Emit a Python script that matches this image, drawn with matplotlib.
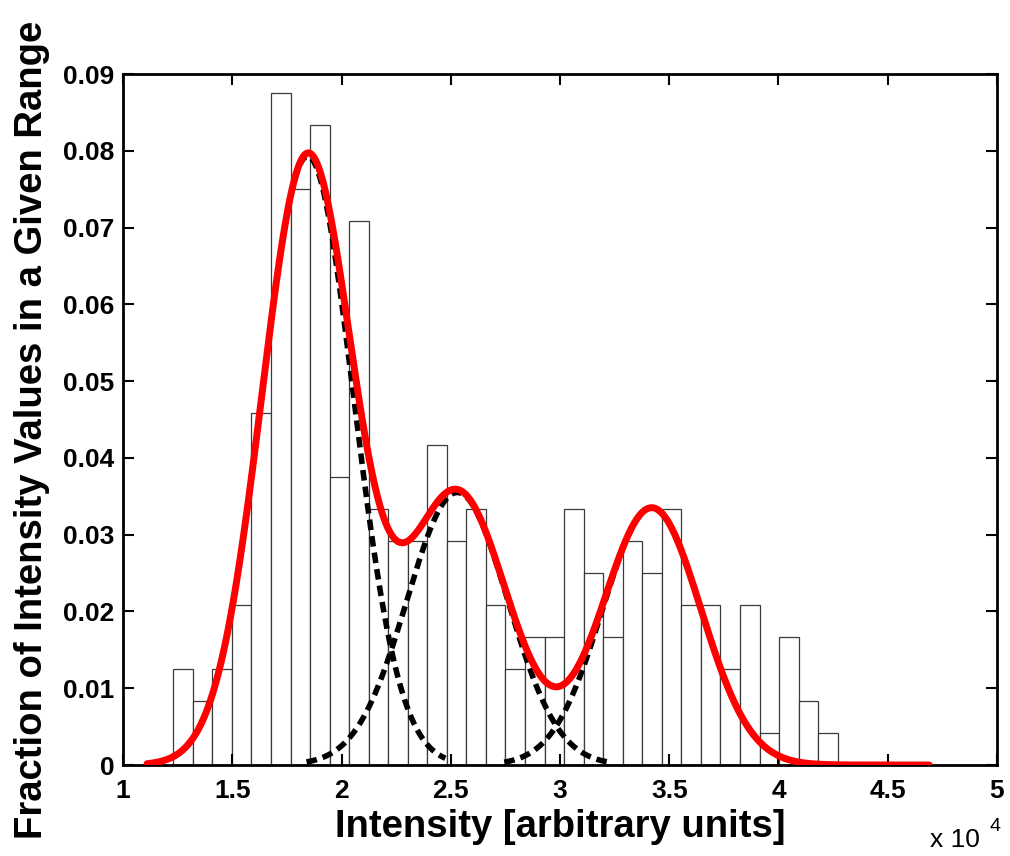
import numpy as np
import matplotlib
matplotlib.use('Agg')
import matplotlib.pyplot as plt
from matplotlib.ticker import FuncFormatter

plt.rcParams['font.family'] = ['Liberation Sans', 'DejaVu Sans']
plt.rcParams['font.weight'] = 'bold'

# histogram: fraction of intensity values per bin (34 bins)
bin_lo = 12300
bin_hi = 42710
fractions = [0.0125, 0.0083, 0.0125, 0.0208, 0.0458, 0.0875, 0.0750, 0.0833,
             0.0375, 0.0708, 0.0333, 0.0292, 0.0292, 0.0417, 0.0292, 0.0333,
             0.0208, 0.0125, 0.0167, 0.0167, 0.0333, 0.0250, 0.0167, 0.0292,
             0.0250, 0.0333, 0.0208, 0.0208, 0.0125, 0.0208, 0.0042, 0.0167,
             0.0083, 0.0042]

# gaussian mixture components (intensity units)
means = [18450, 25300, 34200]
sigmas = [2100, 2300, 2250]
amps = [0.0793, 0.0355, 0.0335]
fit_lo, fit_hi = 11100, 46900

xticks = [10000, 15000, 20000, 25000, 30000, 35000, 40000, 45000, 50000]
yticks = [0, 0.01, 0.02, 0.03, 0.04, 0.05, 0.06, 0.07, 0.08, 0.09]

fig = plt.figure(figsize=(10.1, 8.56), dpi=100)
ax = fig.add_axes([0.1218, 0.1063, 0.8653, 0.8072])

edges = np.linspace(bin_lo, bin_hi, len(fractions) + 1)
ax.bar(edges[:-1], fractions, width=np.diff(edges), align='edge',
       facecolor='white', edgecolor='#3a3a3a', linewidth=0.9, zorder=1)

def gauss(x, a, m, s):
    return a * np.exp(-(x - m) ** 2 / (2 * s ** 2))

# individual components, each over mean +/- 3 sigma
for a, m, s in zip(amps, means, sigmas):
    xc = np.linspace(m - 3 * s, m + 3 * s, 300)
    ax.plot(xc, gauss(xc, a, m, s), color='black', lw=4,
            linestyle=(0, (1.9, 1.1)), dash_capstyle='butt', zorder=2)

# total fit
xf = np.linspace(fit_lo, fit_hi, 800)
total = sum(gauss(xf, a, m, s) for a, m, s in zip(amps, means, sigmas))
ax.plot(xf, total, color='red', lw=5, zorder=3, solid_capstyle='round')

ax.set_xlim(10000, 50000)
ax.set_ylim(0, 0.09)
ax.set_xticks(xticks)
ax.set_yticks(yticks)
ax.xaxis.set_major_formatter(FuncFormatter(lambda v, p: '%g' % (v / 1e4)))
ax.yaxis.set_major_formatter(FuncFormatter(lambda v, p: '%g' % v))
ax.tick_params(direction='in', length=8, width=1.5, labelsize=19,
               top=True, right=True)
ax.tick_params(axis='x', pad=10)
ax.tick_params(axis='y', pad=6)
for lab in ax.get_xticklabels() + ax.get_yticklabels():
    lab.set_fontweight('bold')
for sp in ax.spines.values():
    sp.set_linewidth(2)

ax.set_xlabel('Intensity [arbitrary units]', fontsize=27.5, fontweight='bold',
              va='baseline')
ax.xaxis.set_label_coords(0.5, -0.104)
ax.set_ylabel('Fraction of Intensity Values in a Given Range', fontsize=27.5,
              fontweight='bold')
ax.yaxis.set_label_coords(-0.0835, 0.4855)
ax.text(0.9235, -0.1185, 'x 10', transform=ax.transAxes, fontsize=19,
        fontweight='normal', ha='left', va='baseline')
ax.text(0.991, -0.0955, '4', transform=ax.transAxes, fontsize=14,
        fontweight='normal', ha='left', va='baseline')

fig.savefig('out.png', dpi=100)
